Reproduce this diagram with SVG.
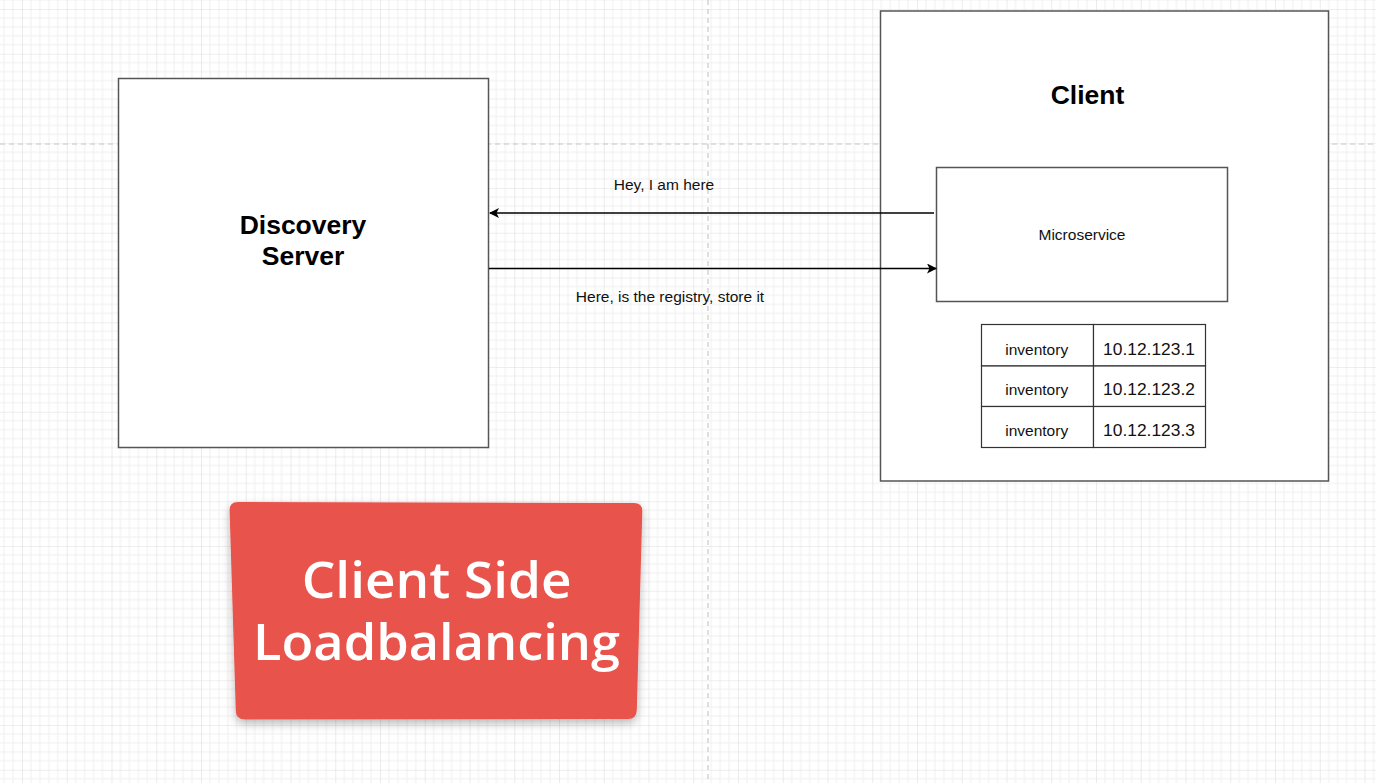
<svg xmlns="http://www.w3.org/2000/svg" width="1376" height="783" viewBox="0 0 1376 783">
<defs>
<pattern id="grid" patternUnits="userSpaceOnUse" x="22" y="9" width="44.75" height="44.75">
<path d="M8.95 0V44.75M17.9 0V44.75M26.85 0V44.75M35.8 0V44.75M0 8.95H44.75M0 17.9H44.75M0 26.85H44.75M0 35.8H44.75" stroke="#efefef" stroke-width="1" fill="none"/>
<path d="M0 0V44.75M0 0H44.75" stroke="#dedede" stroke-width="1.2" fill="none"/>
</pattern>
<marker id="arr" viewBox="0 0 10 10" refX="9" refY="5" markerWidth="10" markerHeight="10" markerUnits="userSpaceOnUse" orient="auto">
<path d="M0 0L10 5L0 10L2.5 5Z" fill="#000"/>
</marker>
<filter id="shadow" x="-10%" y="-10%" width="120%" height="130%">
<feDropShadow dx="0" dy="4" stdDeviation="5" flood-color="#000" flood-opacity="0.28"/>
</filter>
<style>
.box{fill:#fff;stroke:#555;stroke-width:1.5}
.cell{fill:#fff;stroke:#333;stroke-width:1.2}
.title{font-family:"Liberation Sans",Arial,sans-serif;font-weight:bold;font-size:26.5px;fill:#000;text-anchor:middle}
.lbl{font-family:"Liberation Sans",Arial,sans-serif;font-size:15.5px;fill:#111;text-anchor:middle}
.ip{font-family:"Liberation Sans",Arial,sans-serif;font-size:17.4px;fill:#111;text-anchor:middle}
.edge{stroke:#000;stroke-width:1.3;fill:none}
.card{font-family:"Open Sans","Noto Sans",sans-serif;font-weight:600;font-size:50px;fill:#fff;text-anchor:middle}
.page{stroke:#c8c8c8;stroke-width:1.2;stroke-dasharray:5 4;fill:none}
</style>
</defs>
<rect x="0" y="0" width="1376" height="783" fill="#fff"/>
<rect x="0" y="0" width="1376" height="783" fill="url(#grid)"/>
<path class="page" d="M0 144H1376M708 0V783"/>

<g id="discovery-server">
<rect class="box" x="118.5" y="78.5" width="370" height="369"/>
<text class="title" x="303" y="234">Discovery</text>
<text class="title" x="303" y="265">Server</text>
</g>

<g id="client">
<rect class="box" x="880.5" y="11" width="448" height="470"/>
<text class="title" x="1087.5" y="104">Client</text>
</g>

<g id="microservice">
<rect class="box" x="936.5" y="167.5" width="291" height="134"/>
<text class="lbl" x="1082" y="240">Microservice</text>
</g>

<g id="registry-table">
<rect class="cell" x="981.5" y="324.5" width="112" height="41.5"/>
<rect class="cell" x="1093.5" y="324.5" width="112" height="41.5"/>
<rect class="cell" x="981.5" y="366" width="112" height="40.5"/>
<rect class="cell" x="1093.5" y="366" width="112" height="40.5"/>
<rect class="cell" x="981.5" y="406.5" width="112" height="41"/>
<rect class="cell" x="1093.5" y="406.5" width="112" height="41"/>
<text class="lbl" x="1036.7" y="355">inventory</text>
<text class="lbl" x="1036.7" y="395">inventory</text>
<text class="lbl" x="1036.7" y="436">inventory</text>
<text class="ip" x="1149" y="355">10.12.123.1</text>
<text class="ip" x="1149" y="395">10.12.123.2</text>
<text class="ip" x="1149" y="436">10.12.123.3</text>
</g>

<g id="connectors">
<path class="edge" d="M934 213H490" marker-end="url(#arr)"/>
<path class="edge" d="M489 268.5H936" marker-end="url(#arr)"/>
<text class="lbl" x="664" y="190">Hey, I am here</text>
<text class="lbl" x="670" y="302">Here, is the registry, store it</text>
</g>

<g id="banner">
<path filter="url(#shadow)" fill="#E8524B" d="M238 502L634 503Q642.5 503 642.3 511.5L636.8 710Q636.5 719 628 719L245 719.5Q236 719.5 235.8 711L229.6 510.5Q229.5 502 238 502Z"/>
<text class="card" x="436.7" y="598" textLength="270" lengthAdjust="spacingAndGlyphs">Client Side</text>
<text class="card" x="436.5" y="660" textLength="367" lengthAdjust="spacingAndGlyphs">Loadbalancing</text>
</g>
</svg>
